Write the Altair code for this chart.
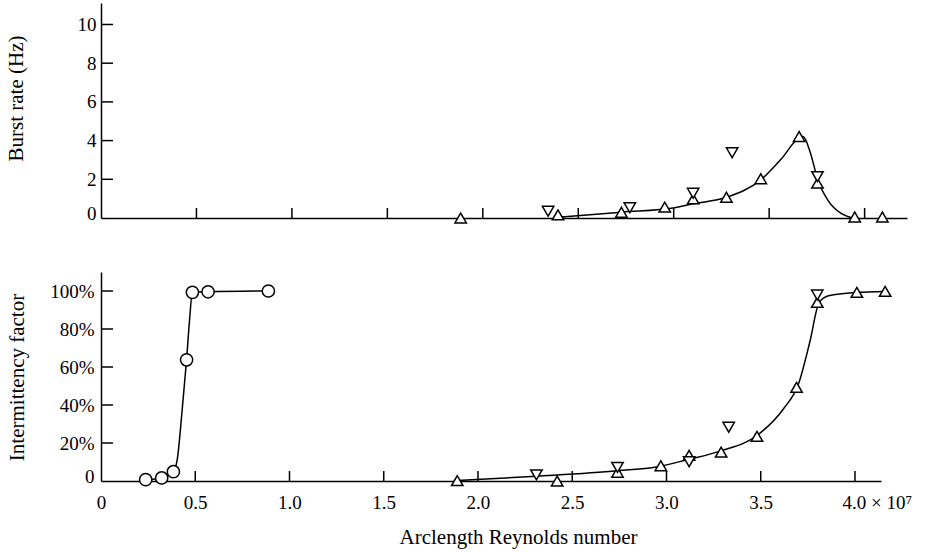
import altair as alt
import pandas as pd

# ---------------- data ----------------
# top panel: burst rate (Hz) vs arclength Reynolds number (x 1e7)
top_up_x = [1.884, 2.394, 2.726, 2.953, 3.102, 3.276, 3.456, 3.657, 3.753, 3.948, 4.093]
top_up_y = [0.0, 0.16, 0.30, 0.56, 0.99, 1.07, 2.03, 4.21, 1.80, 0.05, 0.05]
top_dn_x = [2.342, 2.770, 3.102, 3.306, 3.753]
top_dn_y = [0.35, 0.53, 1.28, 3.37, 2.14]
top_curve_x = [2.394, 2.726, 3.005, 3.102, 3.276, 3.456, 3.564, 3.657, 3.678, 3.712, 3.756, 3.809, 3.879, 3.931]
top_curve_y = [0.04, 0.30, 0.53, 0.73, 1.07, 1.97, 3.06, 4.14, 4.21, 3.49, 1.94, 0.90, 0.22, 0.01]

# bottom panel: intermittency factor (%)
bot_circ_x = [0.237, 0.322, 0.384, 0.454, 0.485, 0.568, 0.888]
bot_circ_y = [0.7, 1.6, 4.9, 63.8, 99.3, 99.6, 100.0]
bot_circ_curve_x = [0.237, 0.322, 0.384, 0.405, 0.431, 0.454, 0.470, 0.485, 0.568, 0.888]
bot_circ_curve_y = [0.7, 1.6, 4.9, 11.6, 37.9, 63.8, 85.0, 99.3, 99.6, 100.0]
bot_up_x = [1.89, 2.42, 2.74, 2.97, 3.12, 3.29, 3.48, 3.69, 3.80, 4.01, 4.16]
bot_up_y = [0.2, 0.0, 4.6, 8.0, 13.5, 15.2, 23.5, 49.3, 94.0, 99.3, 99.8]
bot_dn_x = [2.31, 2.74, 3.12, 3.33, 3.80]
bot_dn_y = [3.2, 7.2, 10.1, 28.3, 97.9]
bot_curve_x = [1.89, 2.31, 2.74, 2.97, 3.11, 3.28, 3.49, 3.62, 3.70, 3.76, 3.81, 3.86, 4.01, 4.16]
bot_curve_y = [0.2, 2.5, 5.4, 7.8, 11.2, 15.6, 24.7, 37.9, 51.0, 73.0, 94.0, 97.5, 99.3, 99.8]

# ticks / labels
x_tick_vals = [0.5, 1.0, 1.5, 2.0, 2.5, 3.0, 3.5, 4.0]
x_label_vals = [0, 0.5, 1.0, 1.5, 2.0, 2.5, 3.0, 3.5, 4.0]
top_y_tick_vals = [2, 4, 6, 8, 10]
top_y_label_vals = [0, 2, 4, 6, 8, 10]
bot_y_tick_vals = [20, 40, 60, 80, 100]
bot_y_label_vals = [0, 20, 40, 60, 80, 100]

FONT = "Liberation Serif"


def panel(curves, ups, downs, circles, xdom, ydom, w, h, xaxis, yaxis, xticks, yticks):
    xs = alt.Scale(domain=xdom, nice=False, zero=False)
    ys = alt.Scale(domain=ydom, nice=False, zero=False)
    layers = []
    # inward axis ticks
    layers.append(
        alt.Chart(pd.DataFrame({"x": xticks})).mark_rule(color="black", strokeWidth=1.5).encode(
            x=alt.X("x:Q", scale=xs, axis=xaxis), y=alt.value(h), y2=alt.value(h - 10)))
    layers.append(
        alt.Chart(pd.DataFrame({"y": yticks})).mark_rule(color="black", strokeWidth=1.5).encode(
            y=alt.Y("y:Q", scale=ys, axis=yaxis), x=alt.value(0), x2=alt.value(12)))
    for cx, cy in curves:
        layers.append(
            alt.Chart(pd.DataFrame({"x": cx, "y": cy})).mark_line(
                color="black", strokeWidth=1.5, interpolate="monotone").encode(
                x=alt.X("x:Q", scale=xs, axis=xaxis), y=alt.Y("y:Q", scale=ys, axis=yaxis)))
    for shape, (px, py) in [("triangle-up", ups), ("triangle-down", downs), ("circle", circles)]:
        if not px:
            continue
        size = 150 if shape == "circle" else 130
        layers.append(
            alt.Chart(pd.DataFrame({"x": px, "y": py})).mark_point(
                shape=shape, size=size, filled=True, fill="white", stroke="black",
                strokeWidth=1.5, opacity=1).encode(
                x=alt.X("x:Q", scale=xs, axis=xaxis), y=alt.Y("y:Q", scale=ys, axis=yaxis)))
    return alt.layer(*layers).properties(width=w, height=h)


top_xaxis = alt.Axis(values=x_tick_vals, labels=False, ticks=False, grid=False, title=None)
top_yaxis = alt.Axis(values=top_y_label_vals, ticks=False, grid=False, title="Burst rate (Hz)",
                     labelPadding=5, titleX=-85, titleY=95, titleBaseline="middle",
                     labelOffset={"condition": {"test": "datum.value == 0", "value": -5}, "value": 0})

bot_xaxis = alt.Axis(values=x_label_vals, ticks=False, grid=False, title="Arclength Reynolds number",
                     labelPadding=12,
                     labelExpr="datum.value == 0 ? '0' : (datum.value == 4 ? '4.0 × 10⁷' : format(datum.value, '.1f'))",
                     labelAlign={"condition": {"test": "datum.value == 4", "value": "left"}, "value": "center"},
                     labelOffset={"condition": {"test": "datum.value == 4", "value": -13}, "value": 0},
                     titleX=417, titleY=62, titleBaseline="alphabetic")
bot_yaxis = alt.Axis(values=bot_y_label_vals, ticks=False, grid=False, title="Intermittency factor",
                     labelPadding=7, titleX=-84, titleY=105, titleBaseline="middle",
                     labelExpr="datum.value == 0 ? '0' : datum.value + '%'",
                     labelOffset={"condition": {"test": "datum.value == 0", "value": -5}, "value": 0})

top = panel([(top_curve_x, top_curve_y)], (top_up_x, top_up_y), (top_dn_x, top_dn_y), ([], []),
            [0, 4.222], [0, 11.11], 806, 215, top_xaxis, top_yaxis, x_tick_vals, top_y_tick_vals)
bot = panel([(bot_circ_curve_x, bot_circ_curve_y), (bot_curve_x, bot_curve_y)],
            (bot_up_x, bot_up_y), (bot_dn_x, bot_dn_y), (bot_circ_x, bot_circ_y),
            [0, 4.138], [0, 110], 780, 209, bot_xaxis, bot_yaxis, x_tick_vals, bot_y_tick_vals)

chart = alt.vconcat(top, bot, spacing=46).resolve_scale(
    x="independent", y="independent").properties(
    padding={"left": 4, "top": 3, "right": 5, "bottom": 2}
).configure(background="white").configure_view(stroke=None).configure_axis(
    labelFont=FONT, labelFontSize=19, labelColor="black",
    titleFont=FONT, titleFontSize=21, titleFontWeight="normal", titleColor="black",
    domainColor="black", domainWidth=1.5)

chart.save("out.html", embed_options={"renderer": "svg", "actions": False})
